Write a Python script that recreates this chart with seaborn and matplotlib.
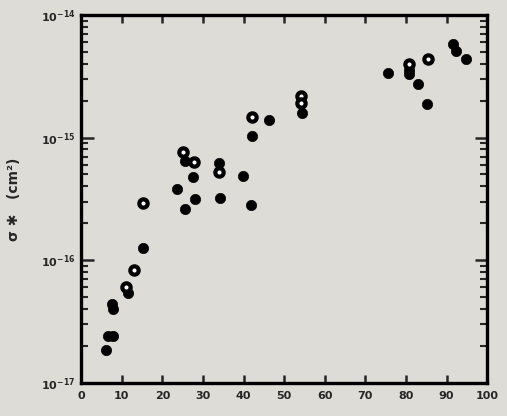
import numpy as np
import pandas as pd
import matplotlib
matplotlib.use("Agg")
import matplotlib.pyplot as plt
import seaborn as sns
from matplotlib.ticker import LogLocator, FixedLocator, NullFormatter

# Filled circles
filled_x = [6.2, 6.7, 7.9, 7.6, 7.9, 11.6, 15.3, 23.6, 25.6, 28.1, 27.6, 25.6, 34.0, 34.2,
            39.9, 41.9, 42.1, 46.3, 54.4, 75.6, 80.8, 80.8, 83.0, 85.2, 91.6, 92.4, 94.8]
filled_log = [-16.73, -16.62, -16.62, -16.36, -16.40, -16.27, -15.90, -15.42, -15.58, -15.50,
              -15.32, -15.19, -15.21, -15.49, -15.31, -15.55, -14.99, -14.86, -14.80, -14.47,
              -14.45, -14.48, -14.56, -14.73, -14.24, -14.29, -14.36]
# Open circles
open_x = [11.1, 13.1, 15.3, 25.1, 27.8, 34.0, 42.1, 54.2, 54.2, 80.8, 85.5]
open_log = [-16.22, -16.08, -15.53, -15.12, -15.20, -15.28, -14.83, -14.66, -14.72, -14.40, -14.36]

x_ticks = [0, 10, 20, 30, 40, 50, 60, 70, 80, 90, 100]
y_decades = [-17, -16, -15, -14]

bg = "#dedcd7"
sns.set_theme(style="white")
plt.rcParams['font.family'] = ['DejaVu Sans']

fig = plt.figure(figsize=(5.07, 4.16), dpi=100, facecolor=bg)
ax = fig.add_axes([0.160, 0.080, 0.801, 0.884])
ax.set_facecolor(bg)

df_f = pd.DataFrame({"x": filled_x, "y": [10.0 ** v for v in filled_log]})
df_o = pd.DataFrame({"x": open_x, "y": [10.0 ** v for v in open_log]})

sns.scatterplot(data=df_f, x="x", y="y", ax=ax, s=55, color="black",
                edgecolor="black", linewidth=0.5, zorder=3)
sns.scatterplot(data=df_o, x="x", y="y", ax=ax, s=36, facecolor="white",
                edgecolor="black", linewidth=3.0, zorder=4)

ax.set_yscale("log")
ax.set_xlim(0, 100)
ax.set_ylim(1e-17, 1e-14)

for sp in ax.spines.values():
    sp.set_linewidth(2.4)
    sp.set_color("black")

ax.xaxis.set_major_locator(FixedLocator(x_ticks))
ax.set_xticklabels([str(t) for t in x_ticks], fontsize=8, fontweight="bold")
ax.tick_params(axis="x", which="major", direction="in", length=6, width=1.8,
               top=True, bottom=True, pad=6)

ax.yaxis.set_major_locator(FixedLocator([10.0 ** d for d in y_decades]))
ax.set_yticklabels([r"$\mathbf{10^{%d}}$" % d for d in y_decades], fontsize=8)
ax.yaxis.set_minor_locator(LogLocator(base=10, subs=np.arange(2, 10)))
ax.yaxis.set_minor_formatter(NullFormatter())
ax.tick_params(axis="y", which="major", direction="in", length=9, width=1.8,
               left=True, right=True, pad=4)
ax.tick_params(axis="y", which="minor", direction="in", length=5, width=1.5,
               left=True, right=True)

ax.set_xlabel("")
ax.set_ylabel("σ ✱   (cm²)", fontsize=10, fontweight="bold", labelpad=14)

fig.savefig("out.png", dpi=100, facecolor=bg)
